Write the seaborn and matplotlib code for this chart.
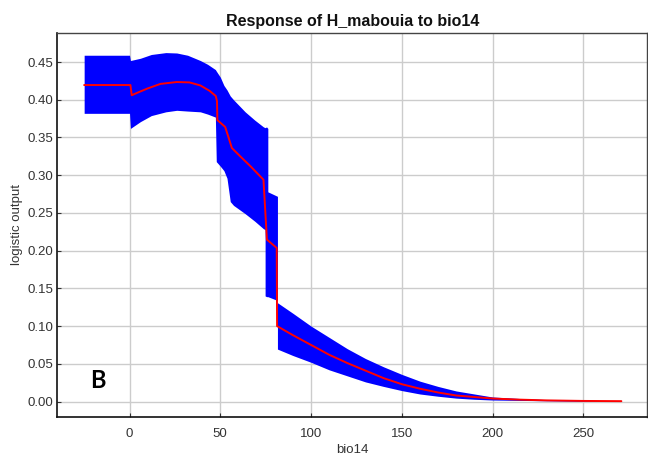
import matplotlib
matplotlib.use("Agg")
import matplotlib.pyplot as plt
import seaborn as sns
import pandas as pd

# Confidence band (x, upper, lower)
band_x = [-25, 0, 0.5, 6, 12, 20, 26, 32, 39, 43, 47.3, 47.8, 50, 52, 53.7, 55.5,
          57.3, 63.7, 69, 73.8, 74.7, 74.7, 75.5, 76.2, 76.2, 81.5, 81.5,
          90, 100, 110, 120, 130, 140, 150, 160, 170, 180, 190, 200, 215, 230, 250, 270]
band_upper = [0.459, 0.459, 0.452, 0.455, 0.460, 0.4625, 0.462, 0.459, 0.452, 0.447, 0.440, 0.438,
              0.430, 0.419, 0.413, 0.405, 0.400, 0.384, 0.373, 0.364, 0.363, 0.363, 0.364, 0.362,
              0.278, 0.272, 0.131,
              0.117, 0.100, 0.085, 0.070, 0.057, 0.046, 0.036, 0.027, 0.020, 0.014, 0.010, 0.006,
              0.004, 0.0025, 0.0012, 0.0007]
band_lower = [0.382, 0.382, 0.362, 0.371, 0.379, 0.384, 0.386, 0.385, 0.384, 0.381, 0.377, 0.318,
              0.312, 0.306, 0.296, 0.265, 0.260, 0.249, 0.239, 0.229, 0.228, 0.140, 0.139, 0.139,
              0.139, 0.134, 0.0695,
              0.061, 0.052, 0.042, 0.034, 0.026, 0.020, 0.0145, 0.010, 0.007, 0.0045, 0.003, 0.002,
              0.0015, 0.001, 0.0003, 0.0001]

# Mean response (red line)
line_x = [-25, 0.5, 1.2, 5, 10, 17, 26, 33, 39, 44, 47.5, 48.2, 48.4, 52.7, 56.4, 61, 67, 73.8,
          75.7, 81.1, 81.3, 90, 100, 110, 120, 130, 140, 150, 160, 170, 180, 190, 200, 215, 230,
          250, 271]
line_y = [0.4195, 0.4195, 0.406, 0.410, 0.415, 0.421, 0.4235, 0.423, 0.419, 0.412, 0.405, 0.398,
          0.373, 0.364, 0.336, 0.325, 0.311, 0.294, 0.2146, 0.2036, 0.100, 0.088, 0.075, 0.062,
          0.051, 0.041, 0.031, 0.023, 0.017, 0.012, 0.008, 0.006, 0.004, 0.0025, 0.0015,
          0.0008, 0.0005]

x_ticks = [0, 50, 100, 150, 200, 250]
y_ticks = [0.00, 0.05, 0.10, 0.15, 0.20, 0.25, 0.30, 0.35, 0.40, 0.45]

sns.set_style("whitegrid")
plt.rcParams['font.family'] = ['Liberation Sans', 'DejaVu Sans']

fig = plt.figure(figsize=(6.48, 4.62), dpi=100)
ax = fig.add_axes([0.0887, 0.0974, 0.9097, 0.8312])

ax.fill_between(band_x, band_lower, band_upper, color='#0000ff', linewidth=0, zorder=2)
df = pd.DataFrame({'bio14': line_x, 'logistic output': line_y})
sns.lineplot(data=df, x='bio14', y='logistic output', sort=False, color='#ff0000',
             linewidth=1.4, ax=ax, zorder=3)

ax.set_xlim(-39.7, 285.1)
ax.set_ylim(-0.0205, 0.4885)
ax.set_xticks(x_ticks)
ax.set_yticks(y_ticks)
ax.set_yticklabels([f"{v:.2f}" for v in y_ticks])
ax.grid(True, color='#cccccc', linewidth=1.0)
ax.set_axisbelow(True)
ax.tick_params(axis='both', direction='in', length=3, width=0.8, colors='#333333',
               labelsize=9.5, labelcolor='#333333')
ax.tick_params(axis='y', left=True, pad=3)
ax.tick_params(axis='x', bottom=True, pad=8)

for side in ['left', 'bottom']:
    ax.spines[side].set_color('#111111')
    ax.spines[side].set_linewidth(1.2)
for side in ['top', 'right']:
    ax.spines[side].set_color('#444444')
    ax.spines[side].set_linewidth(1.0)

ax.set_xlabel('bio14', fontsize=9.5, color='#333333', labelpad=3)
ax.set_ylabel('logistic output', fontsize=9.5, color='#333333')
ax.yaxis.set_label_coords(-0.058, 0.5)
ax.set_title('Response of H_mabouia to bio14', fontsize=11.5, fontweight='bold',
             color='#111111', pad=5)

ax.text(-17.2, 0.0284, 'B', fontsize=17, fontweight='bold', color='black',
        family=['Lato', 'DejaVu Sans'], ha='center', va='center')

fig.savefig('out.png', dpi=100, facecolor='white')
